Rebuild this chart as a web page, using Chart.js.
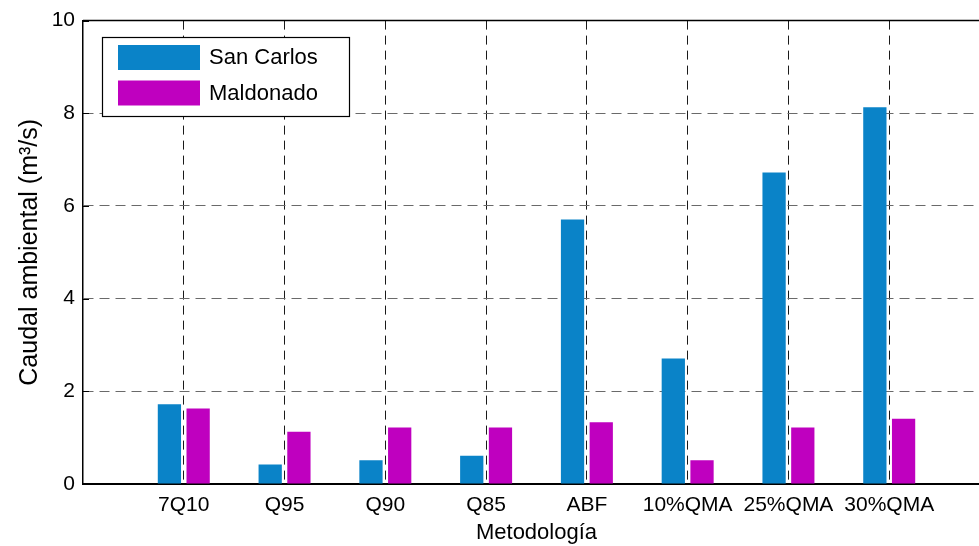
<!DOCTYPE html>
<html>
<head>
<meta charset="utf-8">
<script src="https://cdn.jsdelivr.net/npm/chart.js@4/dist/chart.umd.min.js"></script>
<style>
  html, body { margin: 0; padding: 0; background: #fff; overflow: hidden; width: 979px; height: 546px; }
  #wrap { position: absolute; left: 0; top: 0; width: 1000px; height: 546px; }
</style>
</head>
<body>
<div id="wrap"><canvas id="c" width="1000" height="546"></canvas></div>
<script>
// Environmental flow per method, two basins (m³/s)
const categories = ['7Q10', 'Q95', 'Q90', 'Q85', 'ABF', '10%QMA', '25%QMA', '30%QMA'];
const sanCarlos  = [1.72, 0.42, 0.51, 0.61, 5.71, 2.71, 6.72, 8.13];
const maldonado  = [1.63, 1.13, 1.22, 1.22, 1.33, 0.51, 1.22, 1.41];
const yTicks     = [0, 2, 4, 6, 8, 10];

const FONT = '"Liberation Sans", Arial, Helvetica, sans-serif';
const BLUE = '#0A83C8';
const MAGENTA = '#BF00BF';

// Axis runs from an empty slot before the first method to one after the last
const labels = [''].concat(categories, ['']);
const pad = arr => [null].concat(arr, [null]);

// Boxed legend, solid top frame line and inward y tick marks
const framePlugin = {
  id: 'frame',
  afterDatasetsDraw(chart) {
    const { ctx, chartArea: a, scales } = chart;
    ctx.save();
    // top frame
    ctx.strokeStyle = '#000';
    ctx.lineWidth = 1.5;
    ctx.beginPath();
    ctx.moveTo(a.left, a.top);
    ctx.lineTo(a.right, a.top);
    ctx.stroke();
    // inward tick marks on the value axis
    ctx.lineWidth = 1;
    yTicks.forEach(v => {
      const y = Math.round(scales.y.getPixelForValue(v)) + 0.5;
      ctx.beginPath();
      ctx.moveTo(a.left, y);
      ctx.lineTo(a.left + 6, y);
      ctx.stroke();
    });
    // legend
    const bx = 102, by = 37, bw = 247, bh = 79;
    ctx.fillStyle = '#fff';
    ctx.fillRect(bx, by, bw, bh);
    ctx.strokeStyle = '#000';
    ctx.lineWidth = 1.2;
    ctx.strokeRect(bx + 0.5, by + 0.5, bw, bh);
    ctx.font = '22px ' + FONT;
    ctx.textBaseline = 'middle';
    ctx.textAlign = 'left';
    chart.data.datasets.forEach((ds, i) => {
      const sy = 45 + i * 35.5;
      ctx.fillStyle = ds.backgroundColor;
      ctx.fillRect(118, sy, 82, 25);
      ctx.fillStyle = '#000';
      ctx.fillText(ds.label, 209, sy + 13);
    });
    ctx.restore();
  }
};

new Chart(document.getElementById('c'), {
  type: 'bar',
  data: {
    labels: labels,
    datasets: [
      { label: 'San Carlos', data: pad(sanCarlos), backgroundColor: BLUE, borderWidth: 0 },
      { label: 'Maldonado',  data: pad(maldonado), backgroundColor: MAGENTA, borderWidth: 0 }
    ]
  },
  options: {
    responsive: false,
    animation: false,
    events: [],
    categoryPercentage: 0.57,
    barPercentage: 0.81,
    layout: { padding: { left: 0, right: 10, top: 20, bottom: 0 } },
    plugins: { legend: { display: false }, tooltip: { enabled: false } },
    scales: {
      x: {
        offset: false,
        afterFit(s) { s.height = 62; },
        grid: {
          offset: false,
          drawTicks: false,
          color: c => (c.index === 0 ? 'rgba(0,0,0,0)' : '#1a1a1a'),
          lineWidth: 1
        },
        border: { display: true, color: '#000', width: 2, dash: [9, 6] },
        ticks: {
          autoSkip: false,
          maxRotation: 0,
          padding: 9,
          color: '#000',
          font: { family: FONT, size: 21 }
        },
        title: {
          display: true,
          text: 'Metodología',
          color: '#000',
          font: { family: FONT, size: 22 },
          padding: { top: 0, bottom: 0 }
        }
      },
      y: {
        min: 0,
        max: 10,
        afterFit(s) { s.width = 83; },
        afterBuildTicks(s) { s.ticks = yTicks.map(v => ({ value: v })); },
        grid: {
          drawTicks: false,
          color: c => (c.tick && (c.tick.value === 0 || c.tick.value === 10) ? 'rgba(0,0,0,0)' : '#6a6a6a'),
          lineWidth: 1
        },
        border: { display: true, color: '#000', width: 1.5, dash: [10, 6] },
        ticks: {
          padding: 8,
          color: '#000',
          font: { family: FONT, size: 21 }
        },
        title: {
          display: true,
          text: 'Caudal ambiental (m³/s)',
          color: '#000',
          font: { family: FONT, size: 25 },
          padding: { top: 15, bottom: 0 }
        }
      }
    }
  },
  plugins: [framePlugin]
});
</script>
</body>
</html>
